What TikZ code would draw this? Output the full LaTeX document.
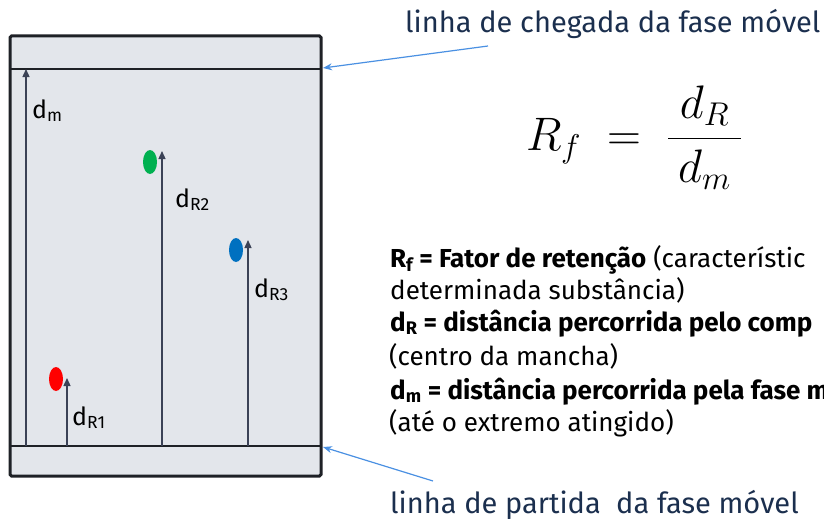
\documentclass[tikz,border=0pt]{standalone}
\usepackage{fix-cm}
\usepackage{amsmath}
\usepackage{fontspec}
\setmainfont{Fira Sans}
\usetikzlibrary{arrows.meta}

\definecolor{placa}{HTML}{E3E6EB}
\definecolor{borda}{HTML}{1E2126}
\definecolor{seta}{HTML}{3B4256}
\definecolor{ponteiro}{HTML}{4A90E2}
\definecolor{rotulo}{HTML}{1B2F4E}
\definecolor{mverde}{HTML}{00B050}
\definecolor{mazul}{HTML}{0070C0}

\tikzset{
  dist/.style={seta, line width=1.3pt, -{Triangle[width=7pt,length=8pt]}},
  aponta/.style={ponteiro, line width=1.2pt, -{Stealth[width=7pt,length=9pt]}},
  dlabel/.style={anchor=base west, font=\fontsize{25}{28}\selectfont},
  linha/.style={anchor=base west, rotulo, font=\fontsize{29}{32}\selectfont},
  defn/.style={anchor=base west, font=\fontsize{26}{30}\selectfont}
}

\begin{document}
\begin{tikzpicture}[x=1pt, y=-1pt, every node/.style={inner sep=0pt}]
  \useasboundingbox (0,0) rectangle (824,519);

  % placa
  \draw[line width=3pt, rounded corners=1.5pt, draw=borda, fill=placa] (10,36) rectangle (321,476);
  \coordinate (cE) at (10,69);  \coordinate (cD) at (320,69);
  \coordinate (pE) at (10,446); \coordinate (pD) at (320,446);
  \draw[line width=2pt, borda] (cE) -- (cD);
  \draw[line width=2pt, borda] (pE) -- (pD);

  % distancias
  \foreach \x/\y/\n in {26/69/m, 67/378/R1, 162/151/R2, 248/240/R3} {
    \coordinate (b\n) at (\x,446);
    \coordinate (t\n) at (\x,\y);
    \draw[dist] (b\n) -- (t\n);
  }

  % manchas
  \fill[red] (56,379) ellipse [x radius=7, y radius=12];
  \fill[mverde] (150,162) ellipse [x radius=7, y radius=12];
  \fill[mazul] (236,250) ellipse [x radius=7, y radius=12];

  \node[dlabel] (lm)  at (32,118)  {d\textsubscript{m}};
  \node[dlabel] (lR2) at (175,207) {d\textsubscript{R2}};
  \node[dlabel] (lR3) at (254,297) {d\textsubscript{R3}};
  \node[dlabel] (lR1) at (72,425)  {d\textsubscript{R1}};

  % linhas de chegada e partida
  \node[linha] (chegada) at (405,33)  {linha de chegada da fase móvel};
  \node[linha] (partida) at (390,513) {linha de partida\ \ da fase móvel};
  \coordinate (sc) at (488,46);
  \coordinate (sp) at (433,481);
  \draw[aponta] (sc) -- (323,68);
  \draw[aponta] (sp) -- (323,447);

  % formula
  \node (rf) at (634,138) {\fontsize{47}{50}\selectfont
    $R_f \;=\; \dfrac{\hspace{10pt}d_R\hspace{10pt}}{\hspace{10pt}d_m\hspace{10pt}}$};

  \node[defn] (d1) at (390,267) {\textbf{R\textsubscript{f} = Fator de retenção} (característic};
  \node[defn] (d2) at (390,299) {determinada substância)};
  \node[defn] (d3) at (390,331) {\textbf{d\textsubscript{R} = distância percorrida pelo comp}};
  \node[defn] (d4) at (389,365) {(centro da mancha)};
  \node[defn] (d5) at (390,399) {\textbf{d\textsubscript{m} = distância percorrida pela fase m}};
  \node[defn] (d6) at (389,431) {(até o extremo atingido)};
\end{tikzpicture}
\end{document}
